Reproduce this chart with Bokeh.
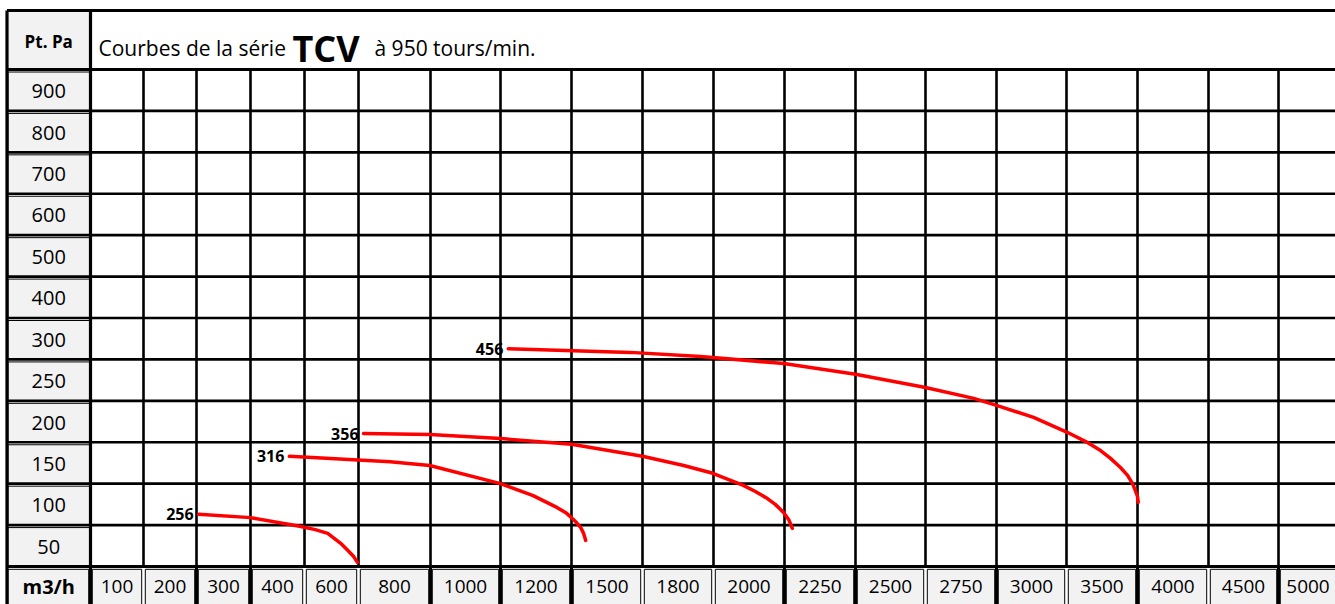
import numpy as np
from bokeh.plotting import figure
from bokeh.models import Range1d
from bokeh.embed import file_html
from bokeh.resources import INLINE
from bokeh.core.properties import value

# ---------------- data ----------------
x_labels = ["100", "200", "300", "400", "600", "800", "1000", "1200", "1500", "1800",
            "2000", "2250", "2500", "2750", "3000", "3500", "4000", "4500", "5000"]
y_labels = ["900", "800", "700", "600", "500", "400", "300", "250", "200", "150", "100", "50"]
x_title = "m3/h"
y_title = "Pt. Pa"
title_a = "Courbes de la série"
title_b = "TCV"
title_c = "à 950 tours/min."

series_names = ["256", "316", "356", "456"]
# curve points read from the grid: x = column position (0 = left edge of the "100" column,
# one unit per column), y = row position (0 = bottom of the "50" row, one unit per row)
c256_x = [2.04, 3.00, 3.91, 4.20, 4.43, 4.67, 4.80, 4.91, 4.98]
c256_y = [1.26, 1.18, 0.97, 0.89, 0.80, 0.56, 0.39, 0.24, 0.10]
c316_x = [3.72, 5.44, 5.99, 7.00, 7.46, 7.80, 7.92, 8.00, 8.07, 8.13, 8.17, 8.20]
c316_y = [2.66, 2.53, 2.44, 2.00, 1.71, 1.42, 1.30, 1.18, 1.06, 0.94, 0.80, 0.63]
c356_x = [5.07, 5.99, 7.00, 8.00, 9.00, 9.58, 9.99, 10.42, 10.59, 10.76, 10.87, 10.99, 11.06, 11.11]
c356_y = [3.21, 3.19, 3.09, 2.95, 2.66, 2.44, 2.25, 1.96, 1.81, 1.64, 1.50, 1.30, 1.13, 0.92]
c456_x = [7.11, 8.83, 9.82, 10.99, 12.00, 13.00, 13.68, 14.00, 14.53, 15.01, 15.30, 15.48,
          15.62, 15.76, 15.86, 15.93, 15.97, 16.00, 16.01]
c456_y = [5.26, 5.17, 5.07, 4.90, 4.64, 4.32, 4.06, 3.89, 3.60, 3.24, 2.99, 2.80,
          2.61, 2.39, 2.20, 2.00, 1.83, 1.69, 1.55]
curves_x = [c256_x, c316_x, c356_x, c456_x]
curves_y = [c256_y, c316_y, c356_y, c456_y]

# ---------------- layout ----------------
W, H = 1335, 604
LEFT = 6.5
TOP = 10
HEAD_BOT = 69
GRID_BOT = 566
col_edges = [90, 143, 196, 250, 304, 358, 430, 500, 571, 642, 713, 784, 855, 925, 996,
             1066, 1137, 1208, 1278, 1349]
n_rows = len(y_labels)
row_h = (GRID_BOT - HEAD_BOT) / n_rows
row_edges = [HEAD_BOT + k * row_h for k in range(n_rows + 1)]
RIGHT = W + 5
BOT = H + 12
thick_seps = [90, 196, 250, 430, 500, 571, 784, 855, 996, 1137, 1278]

GRAY = "#f2f2f2"
FONT = "Open Sans"

p = figure(width=W, height=H, x_range=Range1d(0, W), y_range=Range1d(H, 0),
           output_backend="svg", toolbar_location=None, min_border=0)
p.axis.visible = False
p.grid.visible = False
p.outline_line_color = None
p.background_fill_color = "white"
p.border_fill_color = "white"


def gx(c):
    return np.interp(np.asarray(c, dtype=float), np.arange(len(col_edges)), col_edges)


def gy(r):
    return GRID_BOT - np.asarray(r, dtype=float) * row_h


# gray cells: header label, left column, bottom row
p.quad(left=[LEFT], right=[col_edges[0]], top=[TOP], bottom=[HEAD_BOT],
       fill_color=GRAY, line_color=None)
p.quad(left=[LEFT + 1] * n_rows, right=[col_edges[0] - 1] * n_rows,
       top=[e + 2.5 for e in row_edges[:-1]], bottom=[e for e in row_edges[1:]],
       fill_color=GRAY, line_color="black", line_width=1)
bl = [LEFT + 1] + [e + 1.8 for e in col_edges[:-1]]
br = [col_edges[0] - 1.8] + [e - 1.8 for e in col_edges[1:]]
p.quad(left=bl, right=br, top=[GRID_BOT + 2.8] * len(bl), bottom=[BOT] * len(bl),
       fill_color=GRAY, line_color="black", line_width=1)

# grid lines
p.segment(x0=[col_edges[0]] * (n_rows - 1), x1=[RIGHT] * (n_rows - 1),
          y0=row_edges[1:-1], y1=row_edges[1:-1], line_color="black", line_width=2.6)
p.segment(x0=[LEFT] * (n_rows - 1), x1=[col_edges[0]] * (n_rows - 1),
          y0=row_edges[1:-1], y1=row_edges[1:-1], line_color="black", line_width=2.6)
p.segment(x0=col_edges[1:], x1=col_edges[1:], y0=[HEAD_BOT] * (len(col_edges) - 1),
          y1=[GRID_BOT] * (len(col_edges) - 1), line_color="black", line_width=2.6)
p.segment(x0=[LEFT, LEFT, LEFT], x1=[RIGHT] * 3, y0=[TOP, HEAD_BOT, GRID_BOT],
          y1=[TOP, HEAD_BOT, GRID_BOT], line_color="black", line_width=3)
p.segment(x0=[LEFT, col_edges[0]], x1=[LEFT, col_edges[0]], y0=[TOP, TOP], y1=[BOT, BOT],
          line_color="black", line_width=3.2)
p.segment(x0=thick_seps, x1=thick_seps, y0=[GRID_BOT] * len(thick_seps),
          y1=[BOT] * len(thick_seps), line_color="black", line_width=3)

# labels
cx = (LEFT + col_edges[0]) / 2
p.text(x=[cx], y=[(TOP + HEAD_BOT) / 2 + 1], text=[y_title], text_font=value(FONT),
       text_font_size="17px", text_font_style="bold", text_align="center",
       text_baseline="middle", text_color="black")
row_c = [(a + b) / 2 + 1 for a, b in zip(row_edges[:-1], row_edges[1:])]
p.text(x=[cx] * n_rows, y=row_c, text=y_labels, text_font=value(FONT),
       text_font_size="20px", text_align="center", text_baseline="middle", text_color="black")
p.text(x=[cx], y=[586], text=[x_title], text_font=value(FONT), text_font_size="20px",
       text_font_style="bold", text_align="center", text_baseline="middle", text_color="black")
col_c = [(a + b) / 2 for a, b in zip(col_edges[:-1], col_edges[1:])]
col_c[-1] = (col_edges[-2] + W) / 2 + 1
p.text(x=col_c, y=[586] * len(col_c), text=x_labels, text_font=value(FONT),
       text_font_size="19px", text_align="center", text_baseline="middle", text_color="black")

# title
p.text(x=[98], y=[47], text=[title_a], text_font=value(FONT), text_font_size="21px",
       text_align="left", text_baseline="alphabetic", text_color="black")
p.text(x=[292], y=[48], text=[title_b], text_font=value(FONT), text_font_size="36px",
       text_font_style="bold", text_align="left", text_baseline="alphabetic", text_color="black")
p.text(x=[374], y=[47], text=[title_c], text_font=value(FONT), text_font_size="21px",
       text_align="left", text_baseline="alphabetic", text_color="black")

# curves
for name, xs, ys in zip(series_names, curves_x, curves_y):
    px, py = gx(xs), gy(ys)
    p.line(px, py, line_color="#ff0000", line_width=3.5, line_cap="round", line_join="round")
    p.text(x=[px[0] - 5], y=[py[0]], text=[name], text_font=value(FONT), text_font_size="16px",
           text_font_style="bold", text_align="right", text_baseline="middle", text_color="black")

open("out.html", "w").write(file_html(p, INLINE))
